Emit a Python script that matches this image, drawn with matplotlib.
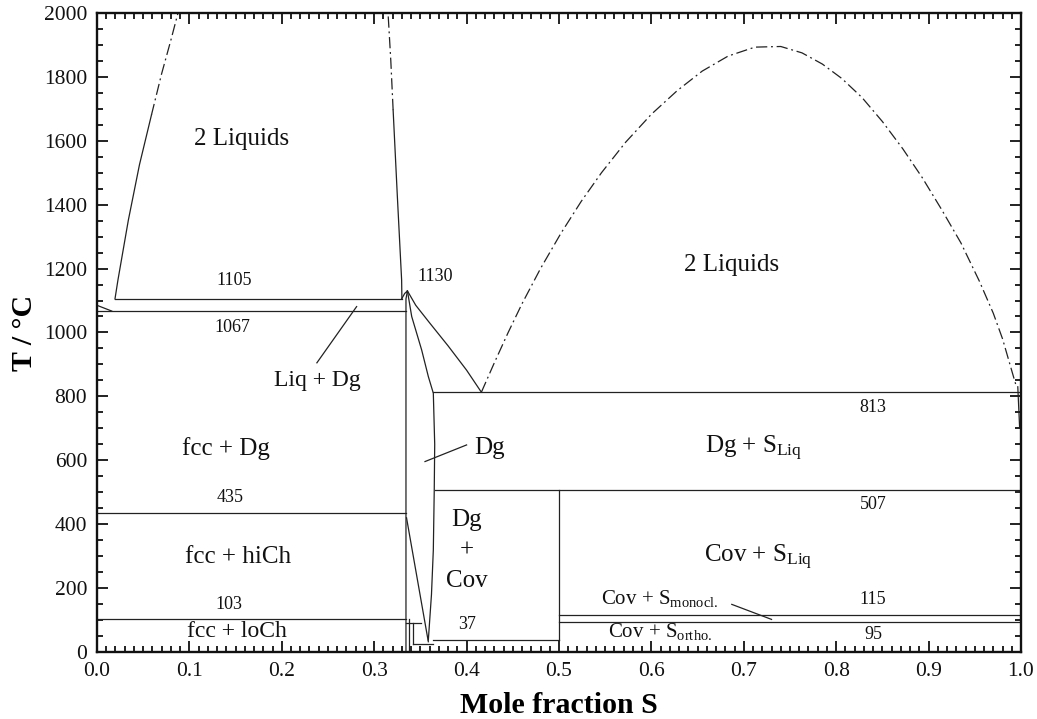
import matplotlib
matplotlib.use("Agg")
import matplotlib.pyplot as plt
from matplotlib.ticker import MultipleLocator

plt.rcParams['font.family'] = ['Liberation Serif', 'DejaVu Serif']
plt.rcParams['mathtext.default'] = 'regular'

# --- Cu-S phase diagram data (x = mole fraction S, T in degC) ---
# invariant horizontals: (T, x_start, x_end)
invariant_T = [1105, 1067, 435, 103, 813, 507, 115, 95, 37]
invariant_x0 = [0.0195, 0.0, 0.0, 0.0, 0.364, 0.3655, 0.5, 0.5, 0.3635]
invariant_x1 = [0.330, 0.334, 0.334, 0.334, 1.0, 1.0, 1.0, 1.0, 0.5]

# Cu-rich liquid miscibility gap, left branch (solid, then metastable)
gapL_left_x = [0.0195, 0.0227, 0.034, 0.046, 0.059]
gapL_left_T = [1105, 1164, 1352, 1525, 1681]
gapL_left_meta_x = [0.059, 0.070, 0.080, 0.0877]
gapL_left_meta_T = [1681, 1810, 1915, 2000]
# left gap, right branch
gapL_right_x = [0.330, 0.3297, 0.3250, 0.3205]
gapL_right_T = [1105, 1164, 1430, 1696]
gapL_right_meta_x = [0.3205, 0.318, 0.315]
gapL_right_meta_T = [1696, 1850, 2000]

# Cu liquidus to eutectic
cu_liq_x = [0.0, 0.016]
cu_liq_T = [1085, 1067]

# digenite: liquidus to monotectic, S-rich solidus/solvus, Cu-rich boundary
dg_liq_x = [0.336, 0.345, 0.360, 0.380, 0.400, 0.416]
dg_liq_T = [1130, 1085, 1030, 958, 882, 813]
dg_sol_x = [0.336, 0.3406, 0.3514, 0.3586, 0.364, 0.3655, 0.3650, 0.364, 0.3620, 0.3586]
dg_sol_T = [1130, 1050, 945, 862, 810, 650, 507, 319, 180, 37]
dg_left_x = [0.3297, 0.333, 0.336, 0.3344, 0.3344]
dg_left_T = [1105, 1122, 1130, 1105, 0]

# low-temperature chalcocite / djurleite boundaries
lowA_x = [0.335, 0.3586]
lowA_T = [420, 32]
lowB_x = [0.338, 0.338]
lowB_T = [0, 103]
lowC_x = [0.342, 0.342]
lowC_T = [25, 90]
lowD_x = [0.3344, 0.351]
lowD_T = [90, 90]
lowE_x = [0.342, 0.364]
lowE_T = [25, 25]

# covellite boundary
cov_x = [0.5, 0.5]
cov_T = [37, 507]

# S-rich liquid miscibility gap (metastable dome)
dome_x = [0.416, 0.430, 0.445, 0.460, 0.480, 0.502, 0.524, 0.546, 0.572, 0.600,
          0.628, 0.655, 0.683, 0.712, 0.740, 0.763, 0.785, 0.806, 0.828, 0.850,
          0.872, 0.893, 0.914, 0.935, 0.955, 0.970, 0.980, 0.988, 0.995]
dome_T = [813, 905, 1000, 1090, 1200, 1310, 1410, 1500, 1595, 1683,
          1757, 1818, 1865, 1893, 1895, 1875, 1840, 1795, 1735, 1660,
          1575, 1485, 1385, 1280, 1160, 1060, 980, 900, 830]
s_liq_x = [0.9965, 0.9985]
s_liq_T = [830, 700]

# leader lines
lead_liqdg_x = [0.281, 0.238]
lead_liqdg_T = [1081, 905]
lead_dg_x = [0.355, 0.400]
lead_dg_T = [596, 648]
lead_mono_x = [0.687, 0.730]
lead_mono_T = [149, 102]

# text labels
labels = ["2 Liquids", "1105", "1067", "Liq + Dg", "fcc + Dg", "435", "fcc + hiCh", "103",
          "fcc + loCh", "1130", "Dg", "Dg\n+\nCov", "37", "2 Liquids", "813",
          "Dg + S$_{Liq}$", "507", "Cov + S$_{Liq}$", "Cov + S$_{monocl.}$", "115",
          "Cov + S$_{ortho.}$", "95"]
label_x = [0.157, 0.149, 0.146, 0.239, 0.140, 0.144, 0.153, 0.143,
           0.151, 0.366, 0.425, 0.400, 0.400, 0.687, 0.840,
           0.711, 0.840, 0.715, 0.609, 0.840,
           0.609, 0.840]
label_T = [1604, 1164, 1017, 851, 638, 485, 297, 150,
           63, 1174, 638, 319, 85, 1211, 764,
           638, 463, 297, 166, 163,
           63, 56]
label_size = [18, 13, 13, 17, 18, 13, 18, 13,
              17, 13, 18, 18, 13, 18, 13,
              18, 13, 18, 15, 13,
              15, 13]

fig = plt.figure(figsize=(10.37, 7.19), dpi=100)
ax = fig.add_axes([0.0935, 0.0932, 0.8911, 0.8888])

lc = '#222222'
lw = 0.9
dashdot = (0, (9, 3, 1.5, 3))

for T, x0, x1 in zip(invariant_T, invariant_x0, invariant_x1):
    ax.plot([x0, x1], [T, T], color=lc, lw=lw)

solid = [(gapL_left_x, gapL_left_T), (gapL_right_x, gapL_right_T), (cu_liq_x, cu_liq_T),
         (dg_liq_x, dg_liq_T), (dg_sol_x, dg_sol_T), (dg_left_x, dg_left_T),
         (lowA_x, lowA_T), (lowB_x, lowB_T), (lowC_x, lowC_T), (lowD_x, lowD_T),
         (lowE_x, lowE_T), (cov_x, cov_T), (s_liq_x, s_liq_T),
         (lead_liqdg_x, lead_liqdg_T), (lead_dg_x, lead_dg_T), (lead_mono_x, lead_mono_T)]
for xs, ts in solid:
    ax.plot(xs, ts, color=lc, lw=lw)

for xs, ts in [(gapL_left_meta_x, gapL_left_meta_T), (gapL_right_meta_x, gapL_right_meta_T),
               (dome_x, dome_T)]:
    ax.plot(xs, ts, color=lc, lw=lw, linestyle=dashdot)

for s, x, t, fs in zip(labels, label_x, label_T, label_size):
    ax.text(x, t, s, ha='center', va='center', fontsize=fs, color='#111111',
            linespacing=1.5)

ax.set_xlim(0, 1.0)
ax.set_ylim(0, 2000)
ax.xaxis.set_major_locator(MultipleLocator(0.1))
ax.xaxis.set_minor_locator(MultipleLocator(0.01))
ax.yaxis.set_major_locator(MultipleLocator(200))
ax.yaxis.set_minor_locator(MultipleLocator(50))
ax.set_xticks([round(0.1 * i, 1) for i in range(11)])
ax.set_xticklabels([f"{0.1 * i:.1f}" for i in range(11)])
ax.tick_params(which='both', direction='in', top=True, right=True, width=1.3,
               labelsize=15.5, colors='#111111')
ax.tick_params(which='major', length=8, pad=7)
ax.tick_params(which='minor', length=4)
for sp in ax.spines.values():
    sp.set_linewidth(1.7)
    sp.set_color('#111111')

ax.set_xlabel("Mole fraction S", fontsize=21.5, fontweight='bold', labelpad=8)
ax.set_ylabel("T / °C", fontsize=21.5, fontweight='bold', labelpad=4)

fig.savefig("out.png", dpi=100)
